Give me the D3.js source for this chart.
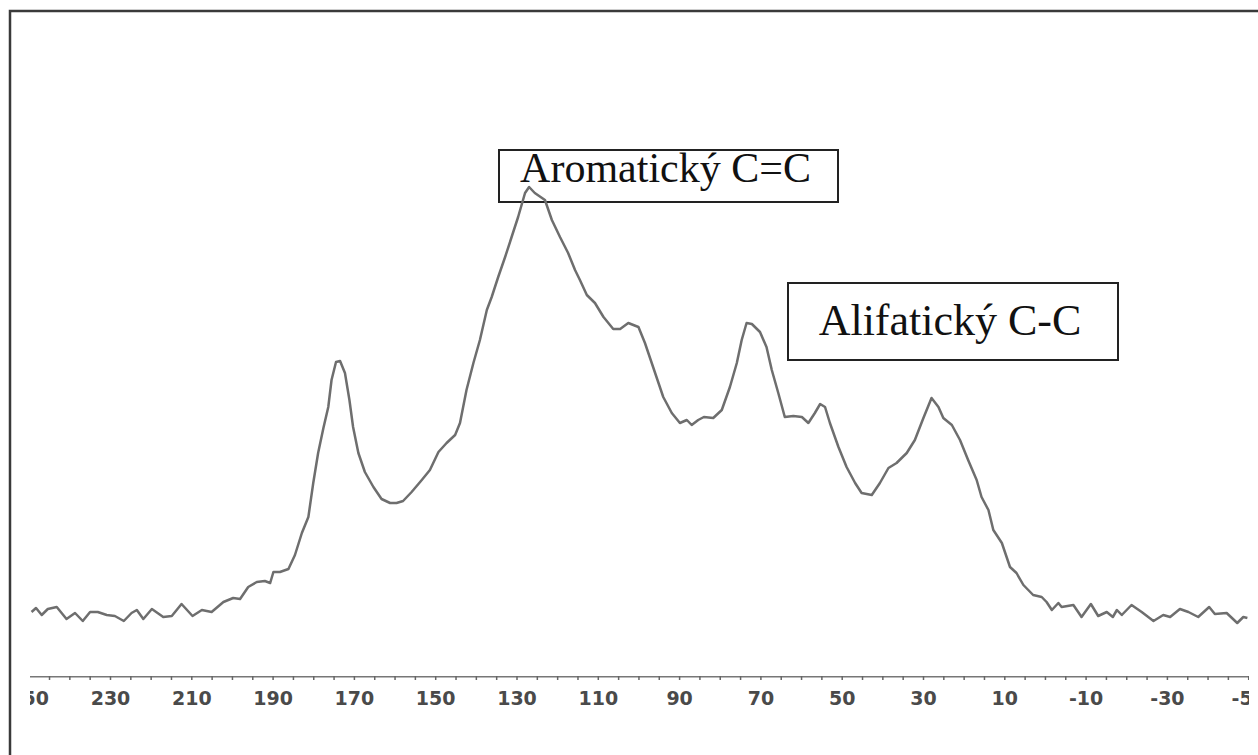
<!DOCTYPE html>
<html>
<head>
<meta charset="utf-8">
<script src="https://cdn.jsdelivr.net/npm/d3@7"></script>
<style>
  body { margin: 0; background: white; }
  #vis { width: 1258px; height: 755px; overflow: hidden; }
</style>
</head>
<body>
<div id="vis"></div>
<script>
// chemical shift (ppm), left to right
let shift = [
  249.3, 248.2, 246.8, 245.3, 243.1, 240.7, 238.6, 236.7, 234.9, 233.0,
  230.8, 228.8, 226.6, 224.7, 223.4, 221.8, 219.7, 216.9, 214.8, 212.4,
  209.7, 207.4, 205.0, 202.1, 199.7, 198.0, 196.0, 193.9, 191.9, 190.6,
  189.8, 188.2, 186.1, 184.5, 182.8, 181.2, 180.0, 178.8, 177.5, 176.3,
  175.5, 174.4, 173.4, 172.2, 171.1, 170.2, 168.9, 167.3, 165.2, 163.2,
  161.1, 159.5, 157.9, 155.8, 153.3, 151.3, 149.2, 147.2, 145.1, 143.9,
  142.3, 140.6, 139.0, 137.3, 136.1, 134.5, 132.8, 131.2, 129.6, 127.9,
  126.9, 125.5, 123.0, 121.3, 119.3, 117.3, 115.6, 114.4, 112.7, 110.7,
  108.6, 106.2, 104.5, 102.5, 100.0, 98.4, 96.4, 93.9, 91.8, 89.8,
  88.1, 86.9, 85.3, 83.9, 81.6, 79.5, 77.5, 75.8, 74.6, 73.4,
  72.1, 70.1, 68.5, 67.2, 65.6, 64.0, 61.9, 59.8, 58.2, 56.6,
  55.3, 54.1, 52.9, 50.8, 48.8, 46.7, 45.1, 42.6, 40.6, 38.5,
  36.5, 34.0, 32.0, 29.9, 27.9, 26.2, 25.0, 22.9, 20.9, 18.9,
  16.8, 15.6, 13.9, 12.7, 10.6, 8.6, 7.0, 5.3, 2.9, 0.8,
  -0.4, -1.7, -3.3, -4.1, -7.0, -9.0, -11.3, -13.1, -15.2, -16.7,
  -17.7, -18.9, -21.3, -23.8, -26.7, -29.1, -30.8, -33.2, -35.3, -37.7,
  -40.4, -41.8, -44.7, -47.3, -48.8, -49.8
];

// signal intensity (arbitrary units)
let intensity = [
  18, 22, 15, 21, 23, 11, 17, 9, 18, 18,
  15, 14, 9, 17, 20, 11, 21, 13, 14, 26,
  14, 20, 18, 28, 32, 31, 43, 48, 49, 47,
  58, 58, 61, 75, 97, 113, 147, 177, 202, 223,
  250, 268, 269, 257, 230, 203, 177, 158, 143, 131,
  127, 127, 129, 138, 150, 160, 178, 187, 195, 207,
  240, 267, 290, 320, 333, 353, 373, 393, 413, 437,
  443, 437, 430, 410, 393, 377, 360, 350, 335, 327,
  313, 301, 301, 307, 303, 287, 263, 233, 217, 207,
  210, 205, 210, 213, 212, 220, 243, 267, 290, 307,
  306, 298, 283, 260, 237, 213, 214, 213, 207, 217,
  226, 223, 207, 183, 163, 147, 137, 135, 147, 162,
  167, 177, 190, 212, 232, 223, 212, 205, 190, 170,
  150, 133, 120, 100, 87, 63, 57, 45, 35, 33,
  28, 20, 27, 23, 25, 13, 26, 14, 18, 13,
  20, 15, 25, 18, 9, 15, 13, 21, 18, 13,
  23, 16, 17, 7, 13, 12
];

let tickValues = d3.range(250, -51, -5);
let labelValues = [250, 230, 210, 190, 170, 150, 130, 110, 90, 70, 50, 30, 10, -10, -30, -50];

let annotations = ['Aromatický C=C', 'Alifatický C-C'];

let width = 1258,
  height = 755;

let svg = d3.select('#vis')
  .append('svg')
  .attr('width', width)
  .attr('height', height)
  .style('background-color', 'white');

// outer frame of the figure (right and bottom sides fall outside the picture)
svg.append('rect')
  .attr('x', 10)
  .attr('y', 11)
  .attr('width', 1400)
  .attr('height', 900)
  .attr('fill', 'none')
  .attr('stroke', '#3a3a3a')
  .attr('stroke-width', 2.5);

// scales: reversed ppm axis like a NMR spectrum
let x = d3.scaleLinear()
  .domain([250, -50])
  .range([28.7, 1248.2]);

let y = d3.scaleLinear()
  .domain([0, 450])
  .range([630, 180]);

svg.append('clipPath')
  .attr('id', 'clip')
  .append('rect')
  .attr('x', 30)
  .attr('y', 0)
  .attr('width', 1219)
  .attr('height', height);

// x axis
let axis = svg.append('g')
  .attr('transform', 'translate(0,676)')
  .attr('clip-path', 'url(#clip)')
  .call(d3.axisBottom(x)
    .tickValues(tickValues)
    .tickSizeInner(4)
    .tickSizeOuter(0)
    .tickPadding(12)
    .tickFormat(d => labelValues.includes(d) ? d : ''));

axis.select('.domain')
  .attr('stroke', '#777')
  .attr('stroke-width', 2);
axis.selectAll('.tick line')
  .attr('stroke', '#666')
  .attr('stroke-width', 1.5);
axis.selectAll('.tick text')
  .attr('fill', '#4a4a4a')
  .style('font-family', '"DejaVu Sans", sans-serif')
  .style('font-weight', 'bold')
  .style('font-size', '19px');

// annotation boxes
let boxes = [
  { x: 499, y: 150, w: 339, h: 52, size: 42 },
  { x: 788, y: 283, w: 330, h: 77, size: 44 }
];

svg.selectAll('.note')
  .data(annotations)
  .enter()
  .append('rect')
  .attr('class', 'note')
  .attr('x', (d, i) => boxes[i].x)
  .attr('y', (d, i) => boxes[i].y)
  .attr('width', (d, i) => boxes[i].w)
  .attr('height', (d, i) => boxes[i].h)
  .attr('fill', 'white')
  .attr('stroke', '#222')
  .attr('stroke-width', 2);

svg.selectAll('.note-text')
  .data(annotations)
  .enter()
  .append('text')
  .attr('class', 'note-text')
  .attr('x', (d, i) => boxes[i].x + boxes[i].w / 2 - 3)
  .attr('y', (d, i) => i == 0 ? 182 : 335)
  .attr('text-anchor', 'middle')
  .attr('fill', '#111')
  .style('font-family', '"Liberation Serif", "Times New Roman", serif')
  .style('font-size', (d, i) => boxes[i].size + 'px')
  .text(d => d);

// the spectrum line
let line = d3.line()
  .x(d => x(d[0]))
  .y(d => y(d[1]));

svg.append('path')
  .datum(shift.map((s, i) => [s, intensity[i]]))
  .attr('d', line)
  .attr('fill', 'none')
  .attr('stroke', '#6e6e6e')
  .attr('stroke-width', 2.5)
  .attr('stroke-linejoin', 'round');
</script>
</body>
</html>
